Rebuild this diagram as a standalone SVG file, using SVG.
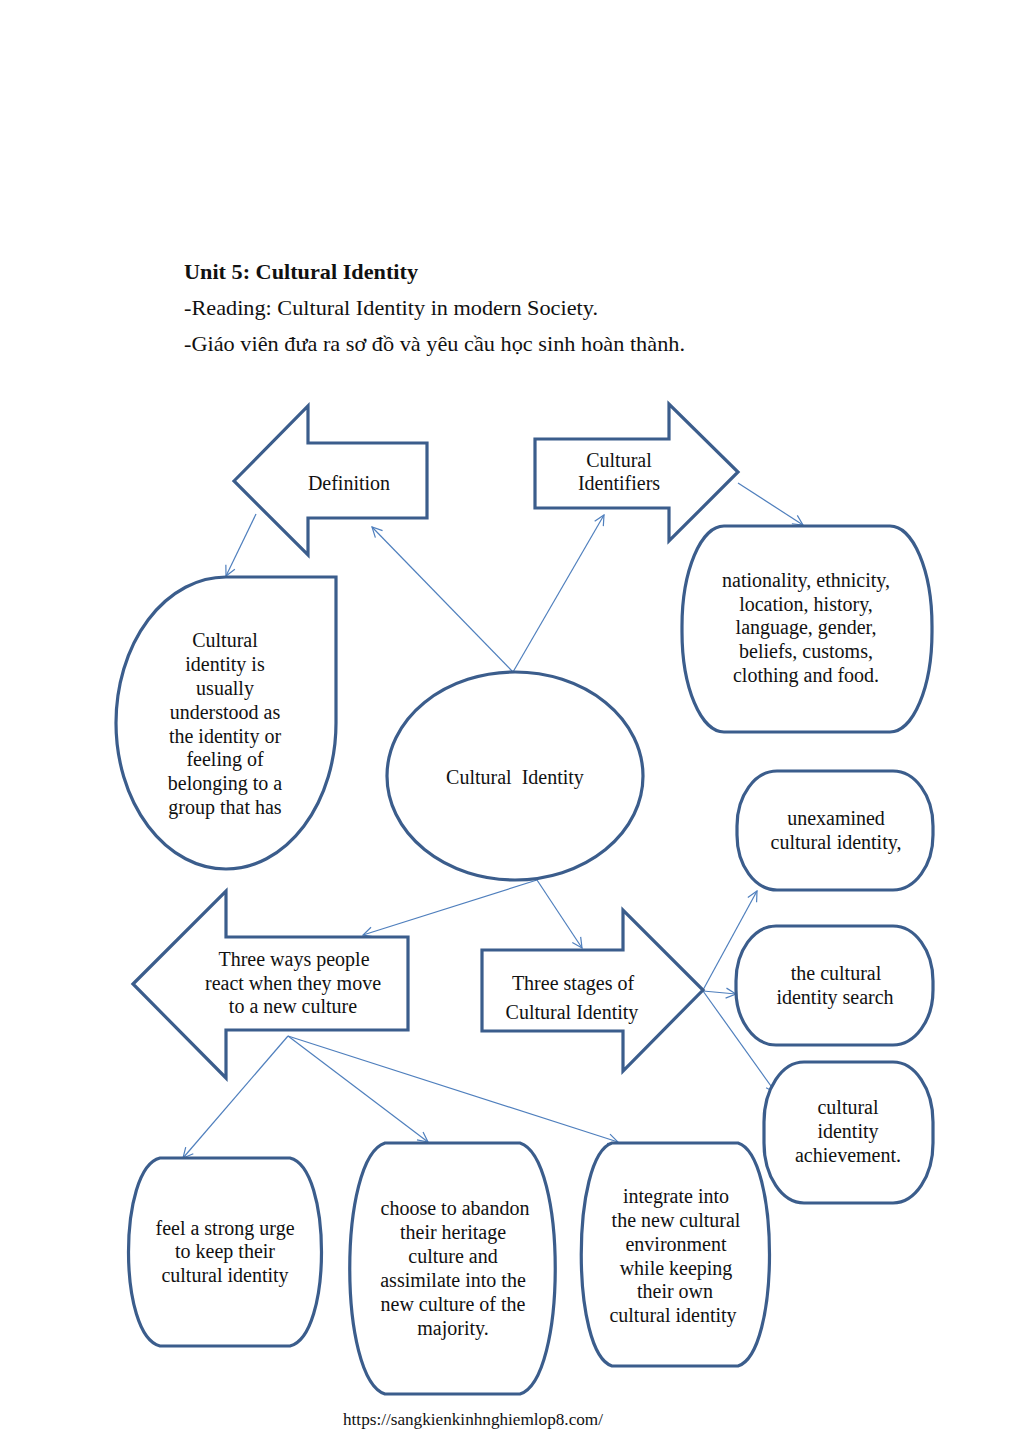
<svg xmlns="http://www.w3.org/2000/svg" width="1023" height="1447" viewBox="0 0 1023 1447">
<defs>
<style>
.shape{fill:#fff;stroke:#3B5D8C;stroke-width:3.2;stroke-linejoin:miter}
.t{font-family:"Liberation Serif","Times New Roman",serif;font-size:20px;fill:#111;text-anchor:middle}
.h{font-family:"Liberation Serif","Times New Roman",serif;font-size:22px;fill:#111}
.c{fill:none;stroke:#4F7FBD;stroke-width:1.2;marker-end:url(#arr)}
</style>
<marker id="arr" viewBox="0 0 12 12" refX="11" refY="6" markerWidth="12" markerHeight="12" markerUnits="userSpaceOnUse" orient="auto">
<path d="M1,1 L11,6 L1,11" fill="none" stroke="#4F7FBD" stroke-width="1.2"/>
</marker>
</defs>
<rect width="1023" height="1447" fill="#fff"/>
<g id="header">
<text class="h" x="184" y="279" font-weight="bold" textLength="234" lengthAdjust="spacingAndGlyphs">Unit 5: Cultural Identity</text>
<text class="h" x="184" y="315" textLength="414" lengthAdjust="spacingAndGlyphs">-Reading: Cultural Identity in modern Society.</text>
<text class="h" x="184" y="351" textLength="501" lengthAdjust="spacingAndGlyphs">-Giáo viên đưa ra sơ đồ và yêu cầu học sinh hoàn thành.</text>
</g>
<g id="connectors">
<line class="c" x1="256" y1="514" x2="226" y2="576"/>
<line class="c" x1="513" y1="672" x2="372" y2="527"/>
<line class="c" x1="513" y1="672" x2="604" y2="515"/>
<line class="c" x1="738" y1="483" x2="803" y2="525"/>
<line class="c" x1="537" y1="880" x2="363" y2="935"/>
<line class="c" x1="537" y1="880" x2="582" y2="948"/>
<line class="c" x1="703" y1="990" x2="757" y2="891"/>
<line class="c" x1="703" y1="991" x2="736" y2="994"/>
<line class="c" x1="703" y1="991" x2="776" y2="1093"/>
<line class="c" x1="288" y1="1036" x2="183" y2="1158"/>
<line class="c" x1="288" y1="1036" x2="428" y2="1142"/>
<line class="c" x1="288" y1="1036" x2="618" y2="1142"/>
</g>
<g id="definition">
<path class="shape" d="M234,481 L308,406 L308,443 L427,443 L427,518 L308,518 L308,555 Z"/>
<text class="t" x="349" y="490">Definition</text>
</g>
<g id="identifiers">
<path class="shape" d="M535,439 L669,439 L669,404 L738,472 L669,541 L669,508 L535,508 Z"/>
<text class="t" x="619" y="467">Cultural</text>
<text class="t" x="619" y="490">Identifiers</text>
</g>
<g id="definition-text">
<path class="shape" d="M226,577 L336,577 L336,723 A110,146 0 0 1 226,869 A110,146 0 0 1 116,723 A110,146 0 0 1 226,577 Z"/>
<text class="t" x="225" y="647">Cultural</text>
<text class="t" x="225" y="671">identity is</text>
<text class="t" x="225" y="695">usually</text>
<text class="t" x="225" y="719">understood as</text>
<text class="t" x="225" y="743">the identity or</text>
<text class="t" x="225" y="766">feeling of</text>
<text class="t" x="225" y="790">belonging to a</text>
<text class="t" x="225" y="814">group that has</text>
</g>
<g id="identifiers-list">
<rect class="shape" x="682" y="526" width="250" height="206" rx="42" ry="100"/>
<text class="t" x="806" y="587">nationality, ethnicity,</text>
<text class="t" x="806" y="611">location, history,</text>
<text class="t" x="806" y="634">language, gender,</text>
<text class="t" x="806" y="658">beliefs, customs,</text>
<text class="t" x="806" y="682">clothing and food.</text>
</g>
<g id="center">
<ellipse class="shape" cx="515" cy="776" rx="128" ry="104"/>
<text class="t" x="515" y="784" xml:space="preserve">Cultural  Identity</text>
</g>
<g id="stage1">
<rect class="shape" x="737" y="771" width="196" height="119" rx="40" ry="55"/>
<text class="t" x="836" y="825">unexamined</text>
<text class="t" x="836" y="849">cultural identity,</text>
</g>
<g id="stage2">
<rect class="shape" x="736" y="926" width="197" height="119" rx="40" ry="55"/>
<text class="t" x="836" y="980">the cultural</text>
<text class="t" x="835" y="1004">identity search</text>
</g>
<g id="stage3">
<rect class="shape" x="764" y="1062" width="169" height="141" rx="40" ry="60"/>
<text class="t" x="848" y="1114">cultural</text>
<text class="t" x="848" y="1138">identity</text>
<text class="t" x="848" y="1162">achievement.</text>
</g>
<g id="three-ways">
<path class="shape" d="M133,984 L226,891 L226,937 L408,937 L408,1030 L226,1030 L226,1078 Z"/>
<text class="t" x="294" y="966">Three ways people</text>
<text class="t" x="293" y="990">react when they move</text>
<text class="t" x="293" y="1013">to a new culture</text>
</g>
<g id="three-stages">
<path class="shape" d="M482,950 L623,950 L623,910 L703,990 L623,1071 L623,1031 L482,1031 Z"/>
<text class="t" x="573" y="990">Three stages of</text>
<text class="t" x="572" y="1019">Cultural Identity</text>
</g>
<g id="way1">
<path class="shape" d="M160,1158 L290,1158 C332,1168 332,1336 290,1346 L160,1346 C118,1336 118,1168 160,1158 Z"/>
<text class="t" x="225" y="1235">feel a strong urge</text>
<text class="t" x="225" y="1258">to keep their</text>
<text class="t" x="225" y="1282">cultural identity</text>
</g>
<g id="way2">
<path class="shape" d="M385,1143 L520,1143 C567,1158 567,1379 520,1394 L385,1394 C338,1379 338,1158 385,1143 Z"/>
<text class="t" x="455" y="1215">choose to abandon</text>
<text class="t" x="453" y="1239">their heritage</text>
<text class="t" x="453" y="1263">culture and</text>
<text class="t" x="453" y="1287">assimilate into the</text>
<text class="t" x="453" y="1311">new culture of the</text>
<text class="t" x="453" y="1335">majority.</text>
</g>
<g id="way3">
<path class="shape" d="M612,1143 L738,1143 C780,1156 780,1353 738,1366 L612,1366 C571,1353 571,1156 612,1143 Z"/>
<text class="t" x="676" y="1203">integrate into</text>
<text class="t" x="676" y="1227">the new cultural</text>
<text class="t" x="676" y="1251">environment</text>
<text class="t" x="676" y="1275">while keeping</text>
<text class="t" x="675" y="1298">their own</text>
<text class="t" x="673" y="1322">cultural identity</text>
</g>
<text x="343" y="1425" font-family="Liberation Serif, serif" font-size="17" fill="#111" textLength="260" lengthAdjust="spacingAndGlyphs">https://sangkienkinhnghiemlop8.com/</text>
</svg>
